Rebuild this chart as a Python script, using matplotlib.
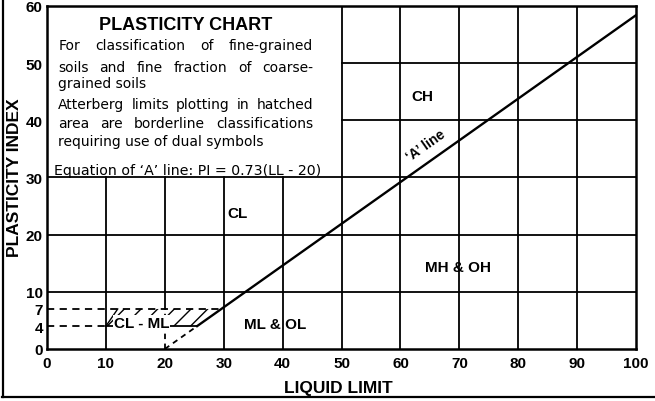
import matplotlib
matplotlib.use("Agg")
import matplotlib.pyplot as plt
from matplotlib.lines import Line2D
from matplotlib.patches import Polygon
import numpy as np

# ---- chart content ----
ll_ticks = [0, 10, 20, 30, 40, 50, 60, 70, 80, 90, 100]
pi_ticks = [0, 4, 7, 10, 20, 30, 40, 50, 60]

# 'A' line: PI = 0.73 (LL - 20)
a_slope = 0.73
a_origin = 20
a_solid_ll = [25.48, 100]
a_dash_ll = [20, 25.48]

# CL-ML borderline zone (hatched)
zone_ll = [10, 25.48, 29.59, 12]
zone_pi = [4, 4, 7, 7]

zone_labels = ["CL", "CH", "MH & OH", "ML & OL", "CL - ML"]
zone_label_ll = [32.4, 63.8, 69.8, 38.7, 16.0]
zone_label_pi = [23.8, 44.2, 14.4, 4.3, 4.6]

title = "PLASTICITY CHART"
body_lines = [
    ("For classification of fine-grained", True),
    ("soils and fine fraction of coarse-", True),
    ("grained soils", False),
    ("Atterberg limits plotting in hatched", True),
    ("area are borderline classifications", True),
    ("requiring use of dual symbols", False),
]
body_pi = [52.4, 48.7, 45.9, 42.1, 38.9, 35.7]
equation = "Equation of \u2018A\u2019 line: PI = 0.73(LL - 20)"

SANS = "Liberation Sans"
BODY = "DejaVu Sans"

fig = plt.figure(figsize=(6.55, 4.02), dpi=100)
ax = fig.add_axes([0.0718, 0.1294, 0.8993, 0.8532])
ax.set_xlim(0, 100)
ax.set_ylim(0, 60)

grid_kw = dict(color="black", lw=1.3, zorder=1)
# vertical grid: short below the text panel, full height to the right of it
for x in ll_ticks[1:-1]:
    top = 30 if x < 50 else 60
    if x == 20:
        ax.plot([x, x], [7, top], **grid_kw)
        ax.plot([x, x], [0, 7], ls=(0, (3, 2.5)), **grid_kw)
    else:
        ax.plot([x, x], [0, top], **grid_kw)
# horizontal grid
for y in [10, 20, 30, 40, 50]:
    left = 0 if y <= 30 else 50
    ax.plot([left, 100], [y, y], **grid_kw)

# dashed PI = 4 and PI = 7 guide lines
dash = (0, (4, 3))
ax.plot([0, 29.59], [7, 7], color="black", lw=1.3, ls=dash, zorder=2)
ax.plot([0, 10], [4, 4], color="black", lw=1.3, ls=dash, zorder=2)

# hatched CL-ML zone
poly = Polygon(np.column_stack([zone_ll, zone_pi]), closed=True,
               facecolor="none", edgecolor="black", hatch="//", lw=0, zorder=2)
ax.add_patch(poly)
ax.plot([10, 25.48], [4, 4], color="black", lw=1.3, zorder=2)
ax.plot([10, 12], [4, 7], color="black", lw=1.0, zorder=2)

# 'A' line
a_solid_ll = np.array(a_solid_ll)
a_dash_ll = np.array(a_dash_ll)
ax.plot(a_solid_ll, a_slope * (a_solid_ll - a_origin), color="black", lw=1.7, zorder=3)
ax.plot(a_dash_ll, a_slope * (a_dash_ll - a_origin), color="black", lw=1.3,
        ls=(0, (3, 2.5)), zorder=3)

# zone labels
for lab, x, y in zip(zone_labels, zone_label_ll, zone_label_pi):
    ax.text(x, y, lab, ha="center", va="center", fontsize=11, fontweight="bold",
            family=SANS, zorder=4,
            bbox=dict(facecolor="white", edgecolor="none", pad=0.5) if lab == "CL - ML" else None)

ax.text(64.3, 35.7, "\u2018A\u2019 line", rotation=35.2, rotation_mode="anchor",
        ha="center", va="center", fontsize=10, fontweight="bold", family=SANS, zorder=4)

# axes styling
for s in ax.spines.values():
    s.set_linewidth(1.8)
ax.set_xticks(ll_ticks)
ax.set_yticks(pi_ticks)
ax.tick_params(length=0, labelsize=11)
ax.tick_params(axis="x", pad=5)
ax.tick_params(axis="y", pad=3)
for lbl in ax.get_xticklabels() + ax.get_yticklabels():
    lbl.set_fontweight("bold")
    lbl.set_family(SANS)

ax.set_xlabel("LIQUID LIMIT", fontsize=12.5, fontweight="bold", family=SANS)
ax.xaxis.label.set_va("center")
ax.xaxis.set_label_coords(0.494, -0.111)
ax.set_ylabel("PLASTICITY INDEX", fontsize=12.5, fontweight="bold", family=SANS)
ax.yaxis.label.set_va("center")
ax.yaxis.label.set_ha("center")
ax.yaxis.set_label_coords(-0.056, 0.501)

# text panel
ax.text(23.6, 56.0, title, ha="center", va="baseline", fontsize=13,
        fontweight="bold", family=SANS, zorder=4)

fig.canvas.draw()
renderer = fig.canvas.get_renderer()
inv = ax.transData.inverted()
body_kw = dict(fontsize=10, family=BODY, va="baseline", ha="left", zorder=4)
x_left, x_right = 1.9, 45.2
for (line, justify), y in zip(body_lines, body_pi):
    if not justify:
        ax.text(x_left, y, line, **body_kw)
        continue
    words = line.split()
    texts = [ax.text(x_left, y, w, **body_kw) for w in words]
    widths = [t.get_window_extent(renderer).width for t in texts]
    px0 = ax.transData.transform((x_left, y))[0]
    px1 = ax.transData.transform((x_right, y))[0]
    gap = (px1 - px0 - sum(widths)) / (len(words) - 1)
    pos = px0
    for t, w in zip(texts, widths):
        t.set_x(inv.transform((pos, 0))[0])
        pos += w + gap

ax.text(1.2, 30.6, equation, fontsize=10.2, family=BODY, va="baseline", ha="left", zorder=4)

# page frame
fig.add_artist(Line2D([0.004, 0.004], [0.01, 1.0], transform=fig.transFigure,
                      color="black", lw=1.6))
fig.add_artist(Line2D([0.003, 1.0], [0.01, 0.01], transform=fig.transFigure,
                      color="black", lw=1.6))

fig.savefig("out.png", dpi=100)
